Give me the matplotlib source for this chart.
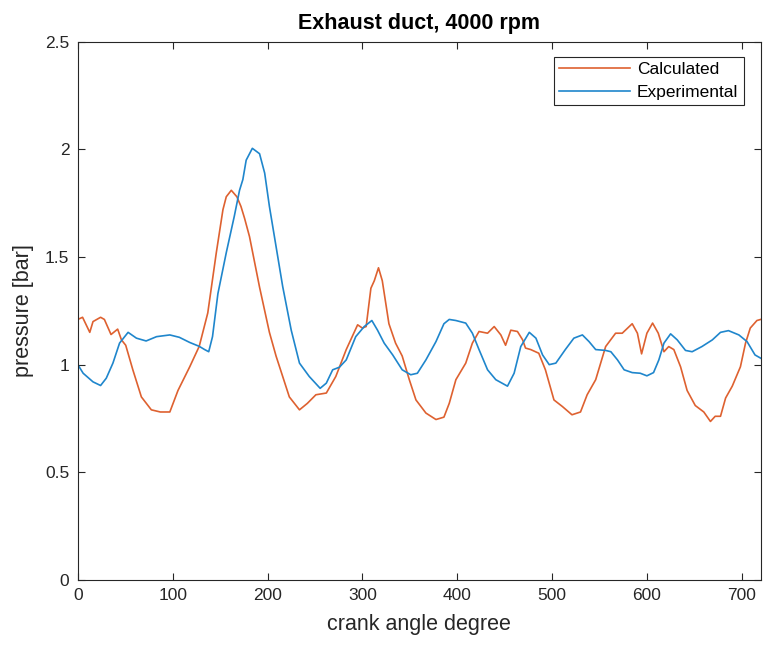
import matplotlib
matplotlib.use("Agg")
import matplotlib.pyplot as plt

# Calculated pressure
calc_deg = [0, 5, 12.6, 16, 24, 28, 35, 42, 46, 50.5, 58, 67, 77.5, 87, 97, 105.6,
            118, 128, 137, 146, 153, 156.5, 161.8, 167.7, 172, 175.8, 181, 191.6,
            202, 209, 223, 233.7, 242, 251, 262, 272, 283, 295, 300, 304, 309, 312.6,
            317, 321, 328, 335, 342, 349.5, 356.5, 367, 377.6, 386, 391.6, 398.6, 409,
            416, 423, 432, 439, 446, 451, 456.5, 463.5, 469, 472, 477.5, 486, 493, 502,
            511, 521, 530, 537, 546, 556.5, 567, 574, 584.5, 590, 594.4, 600, 606, 612,
            618, 623, 628.4, 635.5, 642.4, 651, 660, 667, 672, 677.6, 683, 690, 698.6,
            704, 709, 716, 720]
calc_p = [1.21, 1.22, 1.15, 1.20, 1.22, 1.21, 1.14, 1.165, 1.115, 1.09, 0.976, 0.85,
          0.79, 0.78, 0.78, 0.88, 0.99, 1.085, 1.24, 1.52, 1.72, 1.78, 1.81, 1.78,
          1.735, 1.68, 1.595, 1.36, 1.15, 1.04, 0.85, 0.79, 0.82, 0.86, 0.868, 0.945,
          1.07, 1.185, 1.17, 1.177, 1.355, 1.39, 1.45, 1.39, 1.19, 1.10, 1.04, 0.93,
          0.836, 0.775, 0.745, 0.756, 0.82, 0.93, 1.007, 1.10, 1.154, 1.146, 1.177,
          1.138, 1.09, 1.16, 1.154, 1.115, 1.077, 1.07, 1.053, 0.976, 0.836, 0.805,
          0.767, 0.78, 0.86, 0.93, 1.084, 1.146, 1.146, 1.19, 1.146, 1.05, 1.146,
          1.193, 1.146, 1.06, 1.084, 1.07, 0.99, 0.88, 0.81, 0.78, 0.736, 0.76, 0.76,
          0.845, 0.90, 0.99, 1.10, 1.17, 1.205, 1.21]

# Experimental pressure
exp_deg = [0, 5.6, 16, 24, 30, 37, 44, 53, 61.8, 72, 83, 97, 107, 118, 128, 133.7,
           138, 142, 147.7, 156.5, 165, 170.5, 174, 177.5, 184, 191.6, 197, 202, 216,
           225, 233.7, 244, 255.5, 262, 268.7, 275.8, 283, 293, 302, 310, 316, 323,
           332, 342, 351, 358, 367, 377.6, 386, 391.6, 398.6, 409, 416, 423, 432,
           440.7, 453, 460, 467, 476, 483, 490, 497, 504, 514, 523, 532, 539, 546,
           556.5, 562, 569, 576, 584.5, 593, 600, 607, 612.6, 618, 625, 632, 640.7,
           647.7, 658, 669, 677.6, 686, 697, 705.6, 714, 720]
exp_p = [1.0, 0.96, 0.92, 0.903, 0.937, 1.007, 1.10, 1.15, 1.123, 1.11, 1.13, 1.138,
         1.127, 1.103, 1.085, 1.07, 1.06, 1.13, 1.33, 1.52, 1.69, 1.81, 1.86, 1.95,
         2.005, 1.98, 1.89, 1.735, 1.363, 1.16, 1.007, 0.945, 0.89, 0.914, 0.976,
         0.988, 1.022, 1.13, 1.177, 1.205, 1.16, 1.10, 1.045, 0.976, 0.953, 0.96,
         1.022, 1.107, 1.19, 1.21, 1.205, 1.193, 1.146, 1.07, 0.976, 0.93, 0.90, 0.96,
         1.084, 1.15, 1.123, 1.045, 1.0, 1.007, 1.07, 1.123, 1.138, 1.107, 1.07,
         1.066, 1.06, 1.022, 0.976, 0.963, 0.96, 0.948, 0.963, 1.022, 1.10, 1.143,
         1.115, 1.066, 1.06, 1.084, 1.115, 1.15, 1.158, 1.138, 1.107, 1.045, 1.03]

x_ticks = [0, 100, 200, 300, 400, 500, 600, 700]
y_ticks = [0, 0.5, 1, 1.5, 2, 2.5]
y_tick_labels = ["0", "0.5", "1", "1.5", "2", "2.5"]

plt.rcParams["font.family"] = ["Liberation Sans", "DejaVu Sans"]
dark = "#262626"

fig = plt.figure(figsize=(7.63, 6.53), dpi=100)
ax = fig.add_axes((0.102, 0.112, 0.895, 0.824))

ax.plot(calc_deg, calc_p, color="#DE6130", lw=1.2, label="Calculated")
ax.plot(exp_deg, exp_p, color="#1F86CC", lw=1.2, label="Experimental")

ax.set_xlim(0, 720)
ax.set_ylim(0, 2.5)
ax.set_xticks(x_ticks)
ax.set_yticks(y_ticks)
ax.set_yticklabels(y_tick_labels)
ax.tick_params(direction="in", length=5, width=0.8, colors=dark, labelsize=12.5,
               top=True, right=True, pad=6)
for s in ax.spines.values():
    s.set_color(dark)
    s.set_linewidth(0.8)

ax.set_xlabel("crank angle degree", fontsize=15.5, color=dark, labelpad=8)
ax.set_ylabel("pressure [bar]", fontsize=15.5, color=dark, labelpad=8)
ax.set_title("Exhaust duct, 4000 rpm", fontsize=15.5, fontweight="bold", color="black", pad=9)

leg = ax.legend(loc="upper right", bbox_to_anchor=(0.975, 0.972), fontsize=12.5,
                fancybox=False, framealpha=1, edgecolor=dark, handlelength=4.1,
                borderaxespad=0, handletextpad=0.4, borderpad=0.3, labelspacing=0.45)
leg.get_frame().set_linewidth(0.8)

fig.savefig("out.png", dpi=100)
